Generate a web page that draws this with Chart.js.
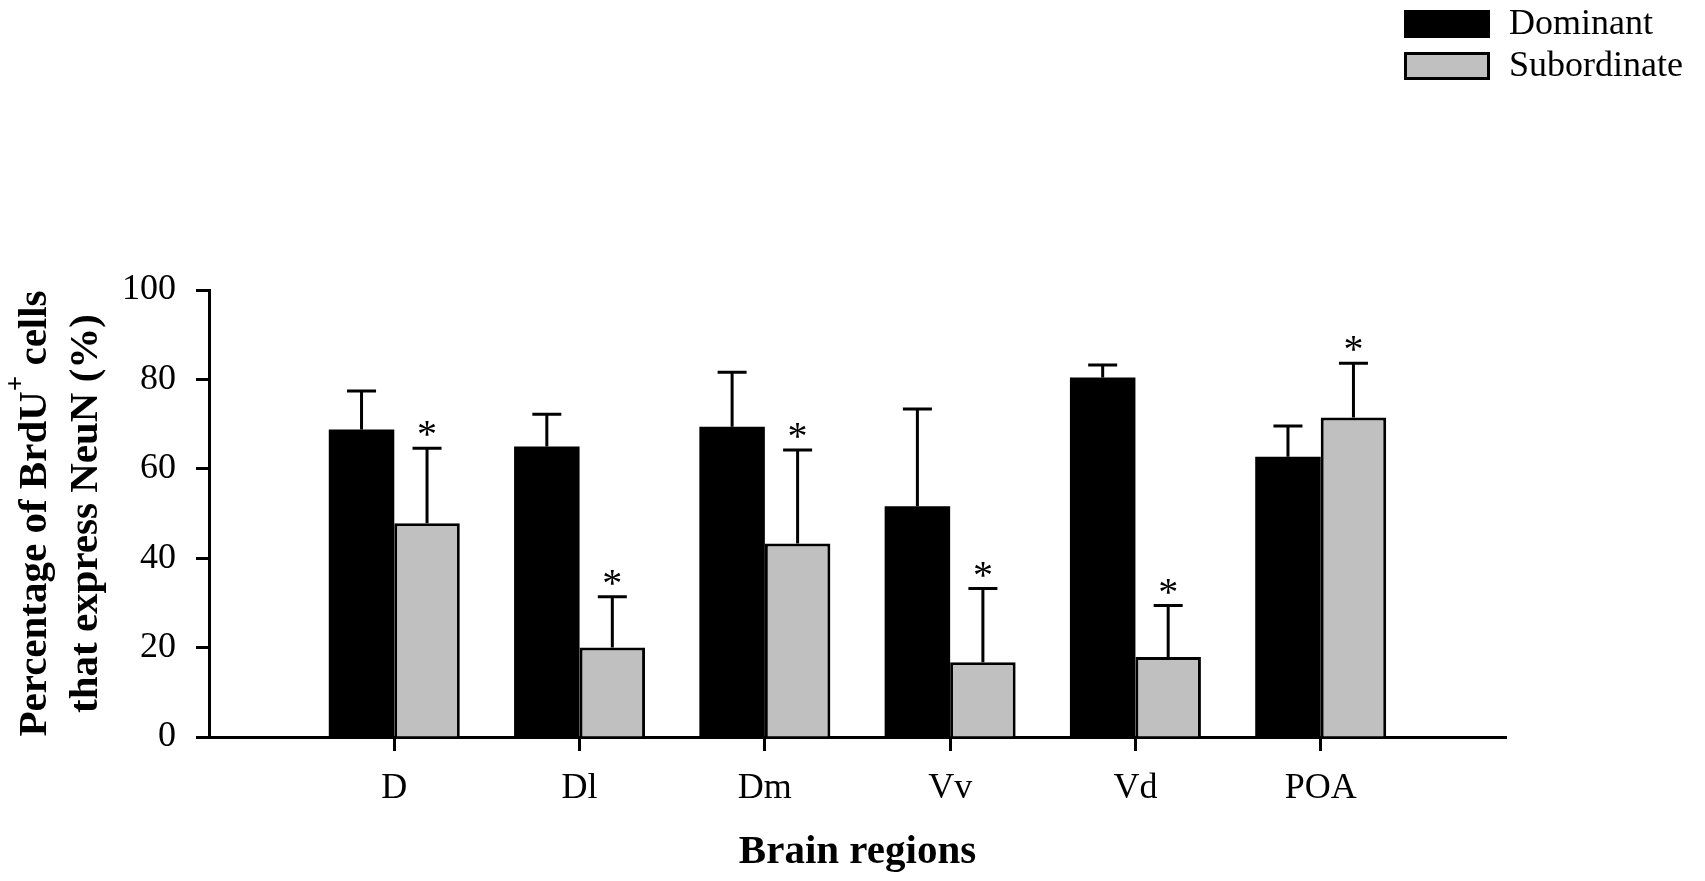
<!DOCTYPE html>
<html>
<head>
<meta charset="utf-8">
<script src="https://cdn.jsdelivr.net/npm/chart.js@4.4.1/dist/chart.umd.min.js"></script>
<style>
    html, body { margin: 0; padding: 0; background: #fff; }
    #wrap { width: 1705px; height: 881px; position: relative; }
</style>
</head>
<body>
<div id="wrap"><canvas id="brduChart"></canvas></div>
<script>
// Brain regions and group means / SEM
const regions = ['D', 'Dl', 'Dm', 'Vv', 'Vd', 'POA'];
const dominantMean = [68.8, 65.0, 69.4, 51.6, 80.4, 62.7];
const dominantErr = [8.6, 7.2, 12.2, 21.8, 2.8, 6.9];
const subordinateMean = [47.8, 20.0, 43.3, 16.7, 17.9, 71.5];
const subordinateErr = [16.8, 11.4, 20.9, 16.5, 11.5, 12.1];
const subordinateSig = [true, true, true, true, true, true];
const yTicks = [0, 20, 40, 60, 80, 100];

const SERIF = '"Liberation Serif", "Times New Roman", serif';

// empty slot at each end so the axis runs one category past D and POA
const pad = arr => [null, ...arr, null];
const axisLabels = ['', ...regions, ''];

/**
 * Error bars (upper only) plus significance asterisks
 */
const errorBars = {
    id: 'errorBars',
    afterDatasetsDraw(chart) {
        const { ctx } = chart;
        const y = chart.scales.y;
        ctx.save();
        ctx.strokeStyle = '#000';
        ctx.fillStyle = '#000';
        ctx.lineWidth = 3;
        ctx.font = '40px ' + SERIF;
        ctx.textAlign = 'center';
        ctx.textBaseline = 'alphabetic';
        chart.data.datasets.forEach((ds, d) => {
            const meta = chart.getDatasetMeta(d);
            meta.data.forEach((bar, i) => {
                const v = ds.data[i];
                if (v == null) return;
                const top = y.getPixelForValue(v + ds.errors[i]);
                ctx.beginPath();
                ctx.moveTo(bar.x, bar.y);
                ctx.lineTo(bar.x, top);
                ctx.moveTo(bar.x - 14.5, top);
                ctx.lineTo(bar.x + 14.5, top);
                ctx.stroke();
                if (ds.stars[i]) ctx.fillText('*', bar.x, top - 1);
            });
        });
        ctx.restore();
    }
};

/**
 * Two-line rotated y title with superscript "+"
 */
const yTitle = {
    id: 'yTitle',
    afterDraw(chart) {
        const { ctx, chartArea } = chart;
        const cy = (chartArea.top + chartArea.bottom) / 2;
        const big = 'bold 41px ' + SERIF;
        const small = 'bold 27px ' + SERIF;
        const lines = [
            { x: 46, parts: [['Percentage of BrdU', big, 0], ['+', small, -22], [' cells', big, 0]] },
            { x: 97, parts: [['that express NeuN (%)', big, 0]] }
        ];
        ctx.save();
        ctx.fillStyle = '#000';
        ctx.textAlign = 'left';
        ctx.textBaseline = 'alphabetic';
        lines.forEach(line => {
            let w = 0;
            const widths = line.parts.map(p => {
                ctx.font = p[1];
                const pw = ctx.measureText(p[0]).width;
                w += pw;
                return pw;
            });
            ctx.save();
            ctx.translate(line.x, cy);
            ctx.rotate(-Math.PI / 2);
            let x = -w / 2;
            line.parts.forEach((p, k) => {
                ctx.font = p[1];
                ctx.fillText(p[0], x, p[2]);
                x += widths[k];
            });
            ctx.restore();
        });
        ctx.restore();
    }
};

/**
 * Legend boxes in the top right corner
 */
const boxLegend = {
    id: 'boxLegend',
    afterDraw(chart) {
        const { ctx } = chart;
        ctx.save();
        ctx.font = '36px ' + SERIF;
        ctx.textAlign = 'left';
        ctx.textBaseline = 'alphabetic';
        chart.data.datasets.forEach((ds, i) => {
            const top = 10 + i * 42;
            ctx.fillStyle = ds.backgroundColor;
            ctx.fillRect(1404, top, 86, 28);
            ctx.strokeStyle = '#000';
            ctx.lineWidth = 3;
            ctx.strokeRect(1405.5, top + 1.5, 83, 25);
            ctx.fillStyle = '#000';
            ctx.fillText(ds.label, 1509, top + 23.5);
        });
        ctx.restore();
    }
};

new Chart(document.getElementById('brduChart'), {
    type: 'bar',
    data: {
        labels: axisLabels,
        datasets: [
            {
                label: 'Dominant',
                data: pad(dominantMean),
                errors: pad(dominantErr),
                stars: pad(regions.map(() => false)),
                backgroundColor: '#000000',
                borderColor: '#000000',
                borderWidth: 0
            },
            {
                label: 'Subordinate',
                data: pad(subordinateMean),
                errors: pad(subordinateErr),
                stars: pad(subordinateSig),
                backgroundColor: '#c0c0c0',
                borderColor: '#000000',
                borderWidth: 3
            }
        ]
    },
    options: {
        responsive: true,
        maintainAspectRatio: false,
        animation: false,
        layout: { padding: { top: 290, right: 199, bottom: 0, left: 0 } },
        datasets: {
            bar: { categoryPercentage: 0.707, barPercentage: 1.0, borderSkipped: 'bottom' }
        },
        plugins: {
            legend: { display: false },
            tooltip: { enabled: false }
        },
        scales: {
            x: {
                offset: false,
                grid: {
                    offset: false,
                    drawOnChartArea: false,
                    tickLength: 14,
                    tickWidth: 3,
                    tickColor: c => (c.index === 0 || c.index === axisLabels.length - 1) ? 'rgba(0,0,0,0)' : '#000'
                },
                border: { color: '#000', width: 3 },
                ticks: {
                    color: '#000',
                    font: { family: SERIF, size: 36 },
                    padding: 16,
                    maxRotation: 0,
                    autoSkip: false
                },
                title: {
                    display: true,
                    text: 'Brain regions',
                    color: '#000',
                    font: { family: SERIF, size: 41, weight: 'bold' },
                    padding: { top: 0, bottom: 4 }
                },
                afterFit: s => { s.height = 144; }
            },
            y: {
                min: 0,
                max: 100,
                afterBuildTicks: s => { s.ticks = yTicks.map(v => ({ value: v })); },
                grid: {
                    drawOnChartArea: false,
                    tickLength: 13,
                    tickWidth: 3,
                    tickColor: '#000'
                },
                border: { color: '#000', width: 3 },
                ticks: {
                    color: '#000',
                    font: { family: SERIF, size: 36 },
                    padding: 20
                },
                afterFit: s => { s.width = 209; }
            }
        }
    },
    plugins: [errorBars, yTitle, boxLegend]
});
</script>
</body>
</html>
